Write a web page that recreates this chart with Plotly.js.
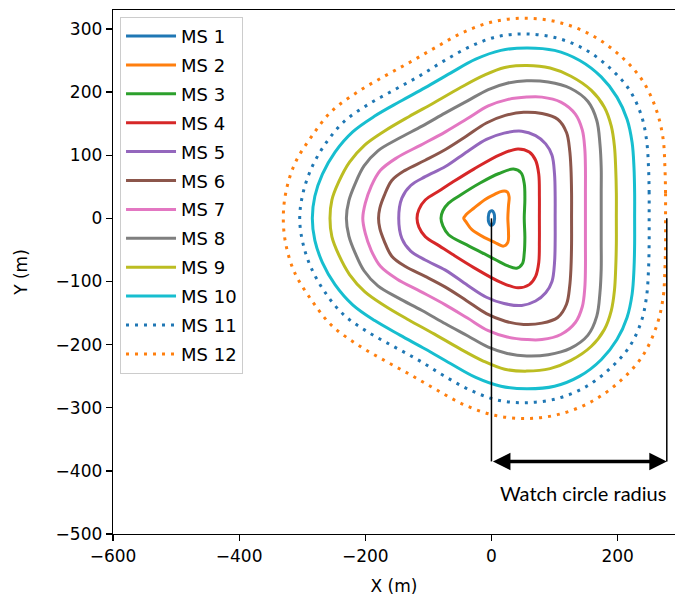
<!DOCTYPE html>
<html>
<head>
<meta charset="utf-8">
<script src="https://cdn.plot.ly/plotly-3.0.1.min.js"></script>
<style>html,body{margin:0;padding:0;background:#fff;}#chart{width:675px;height:601px;}</style>
</head>
<body>
<div id="chart"></div>
<script>
// Mooring system names
const names = ['MS 1','MS 2','MS 3','MS 4','MS 5','MS 6','MS 7','MS 8','MS 9','MS 10','MS 11','MS 12'];

// Watch-circle outlines (m)
const ms1x = [5,4,1,-3,-5,-4,-1,3,5];
const ms1y = [0,8,12,10,2,-7,-11,-9,0];

const ms2x = [26,27,28,25,17,5,-10,-28,-40,-44,-40,-31,-10,5,19,26,27,26];
const ms2y = [0,20,34,42,43,38,30,16,6,0,-6,-18,-31,-38,-44,-38,-22,0];

const ms3x = [52,53,52,47,35,12,-18,-49,-68,-77,-80,-77,-68,-39,-2,25,40,49,52,53,52];
const ms3y = [0,30,55,72,78,71,56,37,24,12,0,-12,-26,-42,-61,-75,-79,-72,-55,-30,0];

const ms4x = [76,76,75,70,60,42,14,-28,-62,-82,-105,-115,-118,-115,-105,-82,-62,-28,14,42,60,70,75,76,76];
const ms4y = [0,35,70,92,105,110,101,78,57,44,29,14,0,-14,-29,-44,-57,-78,-101,-110,-105,-92,-70,-35,0];

const ms5x = [101,101,100,96,86,70,48,20,-8,-38,-73,-105,-128,-142,-147,-142,-128,-105,-73,-38,-8,20,48,70,86,96,100,101,101];
const ms5y = [0,35,70,100,118,131,138,135,125,106,82,66,52,32,0,-32,-52,-66,-82,-106,-125,-135,-138,-131,-118,-100,-70,-35,0];

const ms6x = [127,127,126,124,119,105,80,51,22,-8,-40,-73,-105,-137,-158,-170,-177,-179,-177,-170,-158,-137,-105,-73,-40,-8,22,51,80,105,119,124,126,127,127];
const ms6y = [0,40,80,108,136,157,166,168,163,151,130,109,92,76,60,36,16,0,-16,-36,-60,-76,-92,-109,-130,-151,-163,-168,-166,-157,-136,-108,-80,-40,0];

const ms7x = [149,149,149,148,144,133,110,80,56,25,-5,-38,-73,-112,-150,-176,-191,-200,-204,-200,-191,-176,-150,-112,-73,-38,-5,25,56,80,110,133,144,148,149,149,149];
const ms7y = [0,40,80,110,140,165,184,192,192,188,178,158,137,116,96,76,50,24,0,-24,-50,-76,-96,-116,-137,-158,-178,-188,-192,-192,-184,-165,-140,-110,-80,-40,0];

const ms8x = [174,174,174,172,167,153,125,90,56,25,-5,-38,-73,-110,-148,-180,-202,-216,-226,-230,-226,-216,-202,-180,-148,-110,-73,-38,-5,25,56,90,125,153,167,172,174,174,174];
const ms8y = [0,40,80,118,155,185,206,216,218,214,204,186,167,146,126,107,83,55,28,0,-28,-55,-83,-107,-126,-146,-167,-186,-204,-214,-218,-216,-206,-185,-155,-118,-80,-40,0];

const ms9x = [198,198,197,195,190,179,158,126,93,56,21,-13,-51,-91,-131,-170,-201,-225,-242,-253,-256,-253,-242,-225,-201,-170,-131,-91,-51,-13,21,56,93,126,158,179,190,195,197,198,198];
const ms9y = [0,40,79,114,146,176,203,225,238,242,239,226,206,183,161,138,116,89,58,29,0,-29,-58,-89,-116,-138,-161,-183,-206,-226,-239,-242,-238,-225,-203,-176,-146,-114,-79,-40,0];

const ms10x = [227,227,226,223,215,199,174,140,100,56,15,-25,-65,-105,-145,-185,-220,-248,-268,-280,-284,-280,-268,-248,-220,-185,-145,-105,-65,-25,15,56,100,140,174,199,215,223,226,227,227];
const ms10y = [0,40,80,120,157,192,224,250,266,270,266,252,230,207,185,162,137,105,70,35,0,-35,-70,-105,-137,-162,-185,-207,-230,-252,-266,-270,-266,-250,-224,-192,-157,-120,-80,-40,0];

const ms11x = [250,250,249,246,238,219,190,151,106,56,10,-34,-76,-115,-155,-196,-234,-264,-286,-299,-304,-299,-286,-264,-234,-196,-155,-115,-76,-34,10,56,106,151,190,219,238,246,249,250,250];
const ms11y = [0,40,81,123,162,203,236,266,285,292,288,272,249,225,203,180,153,117,78,39,0,-39,-78,-117,-153,-180,-203,-225,-249,-272,-288,-292,-285,-266,-236,-203,-162,-123,-81,-40,0];

const ms12x = [276,276,275,272,261,239,206,161,109,56,5,-44,-88,-128,-168,-211,-253,-285,-312,-326,-330,-326,-312,-285,-253,-211,-168,-128,-88,-44,5,56,109,161,206,239,261,272,275,276,276];
const ms12y = [0,40,81,127,173,219,256,289,310,317,312,295,271,248,226,201,170,130,86,41,0,-41,-86,-130,-170,-201,-226,-248,-271,-295,-312,-317,-310,-289,-256,-219,-173,-127,-81,-40,0];

// Watch circle radius annotation (m)
const radiusStartX = [0];
const radiusEndX = [278];
const radiusLevelY = [-385];
const radiusLabel = ['Watch circle radius'];

// Axis ticks
const xTicks = [-600,-400,-200,0,200];
const yTicks = [-500,-400,-300,-200,-100,0,100,200,300];

const xs = [ms1x,ms2x,ms3x,ms4x,ms5x,ms6x,ms7x,ms8x,ms9x,ms10x,ms11x,ms12x];
const ys = [ms1y,ms2y,ms3y,ms4y,ms5y,ms6y,ms7y,ms8y,ms9y,ms10y,ms11y,ms12y];

// styles
const colors = ['#1f77b4','#ff7f0e','#2ca02c','#d62728','#9467bd','#8c564b','#e377c2','#7f7f7f','#bcbd22','#17becf','#1f77b4','#ff7f0e'];
const dashes = ['solid','solid','solid','solid','solid','solid','solid','solid','solid','solid','3px,6px','3px,6px'];

const traces = names.map((n,i) => ({
  type: 'scatter', mode: 'lines', name: n,
  x: xs[i], y: ys[i],
  legendgroup: 'g' + i,
  line: {color: colors[i], width: 3, dash: dashes[i], shape: 'spline', smoothing: 1}
}));

const FONT = 'DejaVu Sans, sans-serif';

const layout = {
  width: 675, height: 601,
  margin: {l: 113, r: 0, t: 10, b: 67, pad: 0},
  paper_bgcolor: '#fff', plot_bgcolor: '#fff',
  font: {family: FONT, size: 17, color: '#000'},
  showlegend: true,
  legend: {
    x: 0.0125, y: 0.987, xanchor: 'left', yanchor: 'top',
    bgcolor: 'rgba(255,255,255,0.85)', bordercolor: '#cccccc', borderwidth: 1,
    font: {family: FONT, size: 18, color: '#000'},
    tracegroupgap: 2.5, itemwidth: 50
  },
  xaxis: {
    range: [-600, 291], tickvals: xTicks, ticks: 'outside', ticklen: 6, tickwidth: 1.3,
    tickcolor: '#000', showline: true, linecolor: '#000', linewidth: 1.3, mirror: true,
    showgrid: false, zeroline: false,
    tickfont: {family: FONT, size: 17, color: '#000'},
    title: {text: 'X (m)', font: {family: FONT, size: 17, color: '#000'}, standoff: 15}
  },
  yaxis: {
    range: [-500, 330], tickvals: yTicks, ticks: 'outside', ticklen: 6, tickwidth: 1.3,
    tickcolor: '#000', showline: true, linecolor: '#000', linewidth: 1.3, mirror: false,
    showgrid: false, zeroline: false,
    tickfont: {family: FONT, size: 17, color: '#000'},
    title: {text: 'Y (m)', font: {family: FONT, size: 17, color: '#000'}, standoff: 23}
  },
  shapes: [
    {type: 'line', xref: 'x', yref: 'y', x0: radiusStartX[0], x1: radiusStartX[0], y0: 0, y1: radiusLevelY[0], line: {color: '#000', width: 1.5}},
    {type: 'line', xref: 'x', yref: 'y', x0: radiusEndX[0], x1: radiusEndX[0], y0: 0, y1: radiusLevelY[0], line: {color: '#000', width: 1.5}}
  ],
  annotations: [
    {x: radiusEndX[0], y: radiusLevelY[0], ax: radiusStartX[0], ay: radiusLevelY[0], xref: 'x', yref: 'y', axref: 'x', ayref: 'y',
     text: '', showarrow: true, arrowside: 'end+start', arrowhead: 2, arrowsize: 1, arrowwidth: 3.5, arrowcolor: '#000', standoff: 0, startstandoff: 0},
    {x: (radiusStartX[0] + radiusEndX[0]) / 2 + 6, y: radiusLevelY[0] - 50, xref: 'x', yref: 'y', text: radiusLabel[0], showarrow: false,
     font: {family: 'Lato, sans-serif', size: 20, color: '#000'}}
  ]
};

Plotly.newPlot('chart', traces, layout, {displayModeBar: false, staticPlot: true});
</script>
</body>
</html>
